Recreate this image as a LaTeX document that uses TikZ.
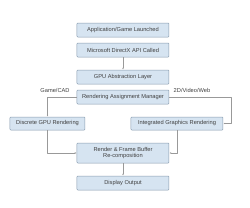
\documentclass[tikz,border=0pt]{standalone}
\usepackage{fontspec}
\setmainfont{Liberation Sans}
\usetikzlibrary{arrows.meta}
\definecolor{boxfill}{RGB}{214,228,241}
\definecolor{boxline}{RGB}{135,155,175}

\begin{document}
\begin{tikzpicture}[x=1pt, y=-1pt, line join=round,
    box/.style={draw=boxline, fill=boxfill, rounded corners=0.8pt, line width=0.5pt,
        minimum width=92pt, minimum height=14pt, inner sep=1pt,
        font=\fontsize{5.7}{6.7}\selectfont, text=black!75, align=center},
    link/.style={draw=black!40, line width=0.5pt, -{Latex[length=2pt,width=1.6pt]}},
    tag/.style={font=\fontsize{5.7}{6.7}\selectfont, text=black!75, inner sep=0pt}]
    % --- Canvas ---
    \useasboundingbox (0,0) rectangle (250,207);

    % --- Main chain ---
    \node[box] (app) at (123,30) {Application/Game Launched};
    \node[box] (api) at (123,50) {Microsoft DirectX API Called};
    \node[box] (gpu) at (123,77) {GPU Abstraction Layer};
    \node[box] (ram) at (123,97) {Rendering Assignment Manager};

    % --- Two rendering paths ---
    \node[box, minimum width=75pt, minimum height=13pt] (dgpu) at (47.5,123.5) {Discrete GPU Rendering};
    \node[box, minimum height=13pt] (igr) at (177,123.5) {Integrated Graphics Rendering};

    % --- Recombination and output ---
    \node[box, minimum height=20pt] (rfb) at (123,153) {Render \& Frame Buffer\\Re-composition};
    \node[box] (disp) at (123,183) {Display Output};

    % --- Path labels ---
    \node[tag] (game) at (55,90) {Game/CAD};
    \node[tag] (web) at (192,90) {2D/Video/Web};

    % --- Connectors ---
    \draw[link] (api) -- (gpu);
    \draw[link] (ram.west) -| (dgpu.north);
    \coordinate (rturn) at (231,97);
    \draw[link] (ram.east) -- (rturn) |- (igr.east);
    \draw[link] (dgpu.south) |- (rfb.west);
    \draw[link] (igr.south) |- (rfb.east);
    \draw[link] (rfb) -- (disp);

\end{tikzpicture}
\end{document}
